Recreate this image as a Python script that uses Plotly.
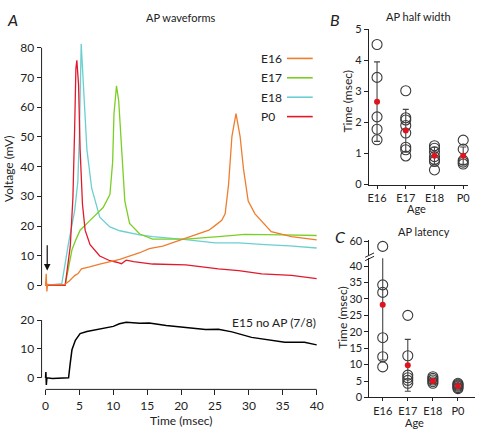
import plotly.graph_objects as go

W, H = 480, 434
FONT = "Lato"

# ---------------- Panel A: AP waveforms ----------------
series_names = ["E16", "E17", "E18", "P0"]
series_colors = ["#EE7D2E", "#7ACF24", "#6CCFCF", "#E2192B"]

t_E16 = [0, 0.1, 0.2, 0.3, 0.6, 1.5, 2.8, 3.5, 4.3, 4.8, 5.3, 6.5, 8.0, 10.95, 13.9, 15.3,
         17.3, 20.7, 22.6, 24.1, 25.1, 26.0, 26.5, 27.0, 27.5, 28.1, 28.7, 29.2, 29.9,
         30.9, 33.3, 36.3, 40.0]
v_E16 = [0, 3.9, -2.0, 0.4, 0.2, 0.2, 0.3, 1.5, 3.3, 4.0, 5.6, 6.2, 7.2, 8.8, 11.0, 12.4,
         13.2, 15.9, 17.5, 18.6, 20.3, 21.9, 24.1, 33.9, 50.2, 57.8, 50.2, 39.3, 28.4,
         24.1, 18.1, 16.4, 15.3]

t_E17 = [0, 2.9, 3.4, 3.9, 4.5, 5.1, 6.57, 8.5, 9.5, 9.9, 10.1, 10.47, 10.8, 11.2, 11.7,
         12.4, 13.9, 15.8, 17.8, 20.7, 25.5, 29.4, 35.0, 40.0]
v_E17 = [0, 0.3, 6.0, 12.0, 15.5, 18.6, 21.9, 26.2, 30.6, 41.5, 57.8, 67.2, 62.0, 47.0, 28.4,
         20.9, 17.3, 15.6, 15.6, 15.6, 16.4, 17.2, 17.0, 16.8]

t_E18 = [0, 2.4, 3.4, 4.3, 4.77, 5.0, 5.26, 5.6, 6.1, 6.8, 8.0, 9.5, 10.95, 13.9, 15.8,
         20.7, 25.0, 27.0, 28.5, 32.4, 36.0, 40.0]
v_E18 = [0, 0.6, 14.3, 25.2, 35.0, 51.0, 81.3, 67.6, 45.8, 32.8, 23.0, 19.7, 18.4, 17.0, 16.4,
         15.4, 14.3, 14.3, 14.3, 13.7, 13.3, 12.6]

t_P0 = [0, 2.9, 3.65, 4.04, 4.28, 4.48, 4.62, 4.87, 5.1, 5.45, 5.84, 6.57, 8.0, 9.5, 10.5,
        11.2, 11.9, 13.0, 15.8, 20.7, 25.5, 28.5, 31.9, 36.3, 40.0]
v_P0 = [0, 0.0, 13.2, 29.5, 51.3, 73.0, 75.8, 67.6, 45.8, 27.3, 18.6, 13.7, 9.9, 8.3, 7.8,
        7.3, 8.5, 8.0, 7.2, 6.9, 5.6, 5.0, 3.9, 3.4, 2.3]

wave_t = {"E16": t_E16, "E17": t_E17, "E18": t_E18, "P0": t_P0}
wave_v = {"E16": v_E16, "E17": v_E17, "E18": v_E18, "P0": v_P0}
draw_order = ["E18", "E17", "P0", "E16"]

# E15 (no AP) trace
t_E15 = [0, 0.05, 0.12, 0.2, 1.0, 2.0, 3.4, 3.65, 3.9, 4.4, 5.1, 6.1, 7.1, 8.5, 10.0, 10.9,
         11.9, 13.9, 15.3, 17.8, 19.7, 21.7, 23.6, 25.5, 27.5, 30.4, 32.4, 35.3, 38.2, 40.0]
v_E15 = [0, 2.0, -2.5, 0.0, -0.2, -0.1, 0.0, 5.2, 9.7, 13.0, 15.3, 16.0, 16.4, 17.2, 17.8, 18.7,
         19.2, 18.9, 19.0, 18.1, 17.6, 17.0, 16.7, 16.8, 15.9, 14.0, 13.3, 12.3, 12.3, 11.4]

volt_ticks = [0, 10, 20, 30, 40, 50, 60, 70, 80]
e15_ticks = [0, 10, 20]
time_ticks = [0, 5, 10, 15, 20, 25, 30, 35, 40]

# ---------------- Panel B: AP half width ----------------
ages = ["E16", "E17", "E18", "P0"]
hw_points = {
    "E16": [4.51, 3.45, 2.18, 1.78, 1.44],
    "E17": [3.02, 2.15, 2.08, 1.9, 1.66, 1.2, 1.12, 0.92],
    "E18": [1.25, 1.17, 1.05, 0.9, 0.8, 0.74, 0.47],
    "P0": [1.43, 1.14, 0.78, 0.72, 0.66],
}
hw_mean = [2.67, 1.74, 0.93, 0.93]
hw_sd = [1.28, 0.68, 0.27, 0.28]
hw_ticks = [0, 1, 2, 3, 4, 5]

# ---------------- Panel C: AP latency ----------------
lat_points = {
    "E16": [57.0, 34.3, 32.0, 18.2, 12.4, 9.3],
    "E17": [25.0, 12.7, 6.8, 6.0, 5.2, 4.3],
    "E18": [6.3, 5.8, 5.3, 4.8, 4.3],
    "P0": [4.3, 4.0, 3.7, 3.4, 3.0, 2.7],
}
lat_mean = [28.2, 9.8, 5.0, 3.5]
lat_sd = [16.8, 7.9, 0.8, 0.6]
lat_ticks_low = [0, 5, 10, 15, 20, 25, 30, 35, 40]
lat_ticks_high = [60]
LAT_BREAK = 42.4

fig = go.Figure()

# waveforms
for name in draw_order:
    c = series_colors[series_names.index(name)]
    fig.add_trace(go.Scatter(x=wave_t[name], y=wave_v[name], mode="lines",
                             line=dict(color=c, width=1.3), xaxis="x", yaxis="y",
                             showlegend=False, hoverinfo="skip"))
fig.add_trace(go.Scatter(x=t_E15, y=v_E15, mode="lines", line=dict(color="black", width=1.5),
                         xaxis="x2", yaxis="y2", showlegend=False))

xpos = list(range(len(ages)))

def add_dots(points, mean, sd, xa, ya, hi_filter=None, clip=True):
    for i, a in enumerate(ages):
        ys = [v for v in points[a] if hi_filter is None or hi_filter(v)]
        if not ys:
            continue
        fig.add_trace(go.Scatter(x=[xpos[i]] * len(ys), y=ys, mode="markers",
                                 marker=dict(symbol="circle-open", size=10, color="#3a3a3a",
                                             line=dict(width=1.1)),
                                 cliponaxis=clip, xaxis=xa, yaxis=ya, showlegend=False))
    if mean is not None:
        fig.add_trace(go.Scatter(x=xpos, y=mean, mode="markers",
                                 marker=dict(symbol="circle", size=6, color="#E0141E"),
                                 error_y=dict(type="data", array=sd, visible=True,
                                              color="#444", thickness=1.1, width=3),
                                 cliponaxis=clip, xaxis=xa, yaxis=ya, showlegend=False))

add_dots(hw_points, hw_mean, hw_sd, "x3", "y3", clip=False)
add_dots(lat_points, lat_mean, lat_sd, "x4", "y4", hi_filter=lambda v: v <= LAT_BREAK)
add_dots(lat_points, None, None, "x5", "y5", hi_filter=lambda v: v > LAT_BREAK, clip=False)

def px(x):
    return x / W

def py(y):
    return 1 - y / H

tickfontA = dict(family=FONT, size=12, color="#222")
tickfontBC = dict(family=FONT, size=11, color="#222")
base_ax = dict(showgrid=False, zeroline=False, ticks="outside", tickcolor="#222",
               tickwidth=1, linecolor="#222", linewidth=1)
axA = dict(base_ax, tickfont=tickfontA)
axBC = dict(base_ax, tickfont=tickfontBC, ticklabeloverflow="allow")

xA = [px(41), px(322)]
xrangeA = [-0.584, 40.44]

fig.update_layout(
    width=W, height=H, margin=dict(l=0, r=0, t=0, b=0),
    paper_bgcolor="white", plot_bgcolor="white",
    font=dict(family=FONT, size=12, color="#222"),
    xaxis=dict(domain=xA, range=xrangeA, visible=False, anchor="y"),
    yaxis=dict(domain=[py(296.2), py(35.9)], range=[-3, 82], tickvals=volt_ticks,
               showline=False, ticklen=4, anchor="x", **axA),
    xaxis2=dict(domain=xA, range=xrangeA, tickvals=time_ticks, showline=False, ticklen=5,
                anchor="y2", **axA),
    yaxis2=dict(domain=[py(394.2), py(321.2)], range=[-4, 20.5], tickvals=e15_ticks,
                showline=False, ticklen=4, anchor="x2", **axA),
    xaxis3=dict(domain=[px(371.7), px(472)], range=[-0.286, 3.17], tickvals=xpos,
                ticktext=ages, showline=True, ticklen=3, anchor="y3", **axBC),
    yaxis3=dict(domain=[py(183), py(23)], range=[0, 5], tickvals=hw_ticks, showline=True,
                ticklen=4, anchor="x3", **axBC),
    xaxis4=dict(domain=[px(372.3), px(479)], range=[-0.53, 3.68], tickvals=xpos,
                ticktext=ages, showline=True, ticklen=3, anchor="y4", **axBC),
    yaxis4=dict(domain=[py(402.5), py(259)], range=[0, LAT_BREAK], tickvals=lat_ticks_low,
                showline=True, ticklen=4, anchor="x4", **axBC),
    xaxis5=dict(domain=[px(372.3), px(479)], range=[-0.53, 3.68], visible=False, anchor="y5"),
    yaxis5=dict(domain=[py(255.5), py(240.7)], range=[52, 60.5], tickvals=lat_ticks_high,
                showline=True, ticklen=4, anchor="x5", **axBC),
)

shapes = []
# axis lines for panel A (span only the labelled range)
shapes.append(dict(type="line", xref="x domain", yref="y", x0=0, x1=0, y0=0, y1=80,
                   line=dict(color="#222", width=1)))
shapes.append(dict(type="line", xref="x2 domain", yref="y2", x0=0, x1=0, y0=0, y1=20,
                   line=dict(color="#222", width=1)))
shapes.append(dict(type="line", xref="x2", yref="y2 domain", x0=0, x1=40, y0=0, y1=0,
                   line=dict(color="#222", width=1)))
# axis break marks (panel C)
for dy in (0, 3.5):
    shapes.append(dict(type="line", xref="paper", yref="paper",
                       x0=px(368), y0=py(259.5 + dy - 1.5), x1=px(377), y1=py(255 + dy - 1.5),
                       line=dict(color="#222", width=1)))
# legend line samples for panel A
leg_y = [53, 73, 93, 113]
for i, name in enumerate(series_names):
    shapes.append(dict(type="line", xref="paper", yref="paper", x0=px(289), x1=px(315),
                       y0=py(leg_y[i]), y1=py(leg_y[i]),
                       line=dict(color=series_colors[i], width=1.6)))

ann = []

def text(t, x, y, size=12, xanchor="center", angle=0, italic=False):
    ann.append(dict(text=t, x=px(x), y=py(y), xref="paper", yref="paper", showarrow=False,
                    xanchor=xanchor, yanchor="middle", textangle=angle,
                    font=dict(family=FONT, size=size, color="#222",
                              style="italic" if italic else "normal")))

text("A", 12, 13, size=16, italic=True)
text("AP waveforms", 182, 11, size=11)
text("B", 338, 13, size=16, italic=True)
text("AP half width", 422, 10, size=11)
text("C", 343, 237, size=16, italic=True)
text("AP latency", 427, 231, size=11)
text("Voltage (mV)", 8, 167, size=12, angle=-90)
text("Time (msec)", 182, 426, size=12)
text("Time (msec)", 350, 97, size=12, angle=-90)
text("Age", 420, 208, size=11)
text("Time (msec)", 345, 320, size=12, angle=-90)
text("Age", 418, 428, size=11)
text("E15 no AP (7/8)", 320, 325, size=12, xanchor="right")
for i, name in enumerate(series_names):
    text(name, 261, leg_y[i], size=12, xanchor="left")

# stimulus arrow
ann.append(dict(text="", x=0.25, y=5.0, ax=0.25, ay=14.0, xref="x", yref="y", axref="x",
                ayref="y", showarrow=True, arrowhead=2, arrowsize=1.1, arrowwidth=1.2,
                arrowcolor="#111"))

fig.update_layout(shapes=shapes, annotations=ann)
fig.write_html("out.html", config={"displayModeBar": False},
               post_script="document.body.style.margin='0px';document.body.style.overflow='hidden';")
